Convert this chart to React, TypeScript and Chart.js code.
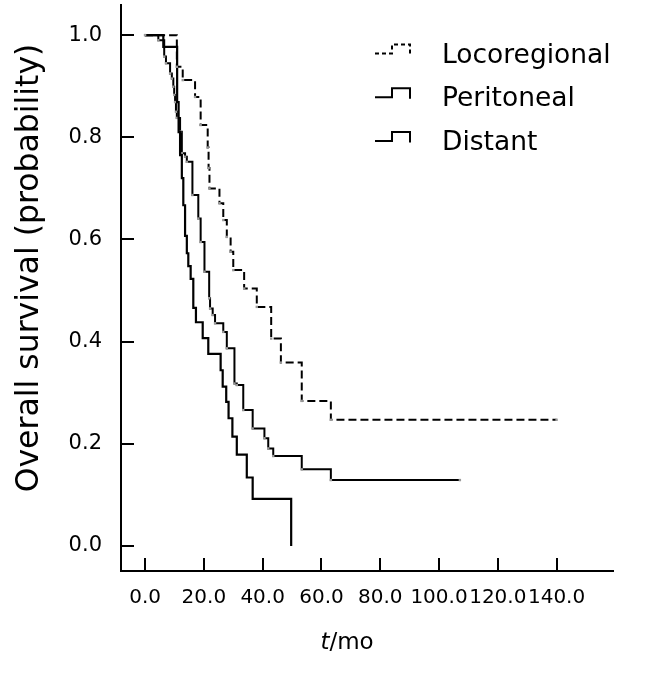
import React, { useEffect, useRef } from "react";
import { Chart, registerables } from "chart.js";

Chart.register(...registerables);

const FONT = "'DejaVu Sans', 'Verdana', sans-serif";

// ---- data ----
const seriesNames = ["Locoregional", "Peritoneal", "Distant"];

const locoT = [0, 10.8, 12.8, 17.0, 18.9, 21.3, 21.6, 21.9, 25.3, 26.6, 27.8, 29.1, 30.0, 33.7, 38.0, 42.9, 46.2, 53.3, 63.2, 140];
const locoS = [1, 0.938, 0.912, 0.879, 0.824, 0.78, 0.74, 0.70, 0.671, 0.638, 0.605, 0.576, 0.540, 0.504, 0.468, 0.406, 0.359, 0.284, 0.247, 0.247];

const periT = [0, 6.2, 10.9, 11.4, 11.9, 12.5, 13.0, 13.6, 14.2, 14.7, 15.5, 16.4, 17.3, 19.6, 21.5, 25.7, 26.4, 27.6, 28.4, 29.7, 31.2, 34.6, 36.6, 49.7];
const periS = [1, 0.977, 0.869, 0.810, 0.765, 0.720, 0.667, 0.607, 0.573, 0.548, 0.523, 0.466, 0.438, 0.407, 0.376, 0.344, 0.312, 0.282, 0.250, 0.214, 0.179, 0.134, 0.092, 0];

const distT = [0, 4.5, 6.5, 7.1, 8.5, 9.1, 9.6, 9.9, 10.2, 10.5, 10.8, 11.9, 12.5, 13.6, 14.2, 16.1, 18.1, 18.9, 20.2, 21.8, 22.1, 23.0, 23.8, 26.6, 27.8, 30.4, 31.2, 33.4, 36.6, 40.6, 41.9, 43.6, 53.3, 63.2, 107.1];
const distS = [1, 0.990, 0.958, 0.945, 0.925, 0.915, 0.899, 0.883, 0.869, 0.850, 0.838, 0.811, 0.769, 0.762, 0.752, 0.687, 0.641, 0.595, 0.537, 0.485, 0.465, 0.452, 0.436, 0.419, 0.387, 0.318, 0.315, 0.266, 0.230, 0.211, 0.191, 0.176, 0.150, 0.129, 0.129];

const xTickValues = [0, 20, 40, 60, 80, 100, 120, 140];
const yTickValues = [0, 0.2, 0.4, 0.6, 0.8, 1.0];

const yTitle = "Overall survival (probability)";
const xTitleItalic = "t";
const xTitleRest = "/mo";

const toPoints = (t: number[], s: number[]) => t.map((v, i) => ({ x: v, y: s[i] }));

// ---- plugins ----
const inwardTicks = {
  id: "inwardTicks",
  afterDraw(chart: any) {
    const { ctx, chartArea, scales } = chart;
    const x = scales.x;
    const y = scales.y;
    ctx.save();
    ctx.strokeStyle = "#000";
    ctx.lineWidth = 2;
    ctx.beginPath();
    xTickValues.forEach((v) => {
      const px = Math.round(x.getPixelForValue(v));
      ctx.moveTo(px, chartArea.bottom);
      ctx.lineTo(px, chartArea.bottom - 13);
    });
    yTickValues.forEach((v) => {
      const py = Math.round(y.getPixelForValue(v));
      ctx.moveTo(chartArea.left, py);
      ctx.lineTo(chartArea.left + 13, py);
    });
    ctx.stroke();
    ctx.restore();
  },
};

const stepLegend = {
  id: "stepLegend",
  afterDraw(chart: any) {
    const ctx = chart.ctx;
    chart.data.datasets.forEach((ds: any, i: number) => {
      const cy = 53 + i * 43.7;
      ctx.save();
      ctx.strokeStyle = ds.borderColor;
      ctx.lineWidth = 2;
      ctx.setLineDash(ds.borderDash && ds.borderDash.length ? [4, 3] : []);
      ctx.beginPath();
      ctx.moveTo(375, cy + 0.5);
      ctx.lineTo(392, cy + 0.5);
      ctx.lineTo(392, cy - 8.5);
      ctx.lineTo(410, cy - 8.5);
      ctx.lineTo(410, cy + 2);
      ctx.stroke();
      ctx.setLineDash([]);
      ctx.fillStyle = "#000";
      ctx.font = `26.5px ${FONT}`;
      ctx.textAlign = "left";
      ctx.textBaseline = "alphabetic";
      ctx.fillText(ds.label, 442, cy + 9.5);
      ctx.restore();
    });
  },
};

const axisTitles = {
  id: "axisTitles",
  afterDraw(chart: any) {
    const ctx = chart.ctx;
    ctx.save();
    ctx.fillStyle = "#000";
    ctx.translate(30, 268);
    ctx.rotate(-Math.PI / 2);
    ctx.font = `31.5px ${FONT}`;
    ctx.textAlign = "center";
    ctx.textBaseline = "middle";
    ctx.fillText(yTitle, 0, 0);
    ctx.restore();

    ctx.save();
    ctx.fillStyle = "#000";
    ctx.textBaseline = "middle";
    ctx.textAlign = "left";
    ctx.font = `italic 23px ${FONT}`;
    const w1 = ctx.measureText(xTitleItalic).width;
    ctx.font = `23px ${FONT}`;
    const w2 = ctx.measureText(xTitleRest).width;
    const start = 347 - (w1 + w2) / 2;
    ctx.font = `italic 23px ${FONT}`;
    ctx.fillText(xTitleItalic, start, 643);
    ctx.font = `23px ${FONT}`;
    ctx.fillText(xTitleRest, start + w1, 643);
    ctx.restore();
  },
};

export default function App() {
  const canvasRef = useRef<HTMLCanvasElement | null>(null);

  useEffect(() => {
    const canvas = canvasRef.current;
    if (!canvas) return;
    const censor = "#9a9a9a";
    const chart = new Chart(canvas, {
      type: "line",
      data: {
        datasets: [
          {
            label: seriesNames[0],
            data: toPoints(locoT, locoS),
            stepped: true,
            borderColor: "#000",
            borderWidth: 2,
            borderDash: [8, 4],
            pointRadius: 1.7,
            pointStyle: "rect",
            pointBackgroundColor: censor,
            pointBorderWidth: 0,
            fill: false,
          },
          {
            label: seriesNames[1],
            data: toPoints(periT, periS),
            stepped: true,
            borderColor: "#000",
            borderWidth: 2.2,
            pointRadius: 0,
            fill: false,
          },
          {
            label: seriesNames[2],
            data: toPoints(distT, distS),
            stepped: true,
            borderColor: "#000",
            borderWidth: 2,
            pointRadius: 1.7,
            pointStyle: "rect",
            pointBackgroundColor: censor,
            pointBorderWidth: 0,
            fill: false,
          },
        ],
      },
      options: {
        responsive: false,
        animation: false,
        layout: { padding: { left: 0, top: 5, right: 37, bottom: 0 } },
        plugins: {
          legend: { display: false },
          tooltip: { enabled: false },
          title: { display: false },
        },
        scales: {
          x: {
            type: "linear",
            min: -8.2,
            max: 159.2,
            afterFit: (s: any) => {
              s.height = 105;
              s.paddingLeft = 0;
              s.paddingRight = 0;
              s.paddingTop = 0;
              s.paddingBottom = 0;
            },
            afterBuildTicks: (s: any) => {
              s.ticks = xTickValues.map((v) => ({ value: v }));
            },
            ticks: {
              callback: (v: any) => Number(v).toFixed(1),
              font: { family: FONT, size: 20 },
              color: "#000",
              padding: 15,
              maxRotation: 0,
              autoSkip: false,
            },
            grid: { display: false, drawTicks: false },
            border: { display: true, color: "#000", width: 2 },
          },
          y: {
            type: "linear",
            min: -0.049,
            max: 1.059,
            afterFit: (s: any) => {
              s.width = 121;
              s.paddingLeft = 0;
              s.paddingRight = 0;
              s.paddingTop = 0;
              s.paddingBottom = 0;
            },
            afterBuildTicks: (s: any) => {
              s.ticks = yTickValues.map((v) => ({ value: v }));
            },
            ticks: {
              callback: (v: any) => Number(v).toFixed(1),
              font: { family: FONT, size: 21 },
              color: "#000",
              padding: 19,
              autoSkip: false,
            },
            grid: { display: false, drawTicks: false },
            border: { display: true, color: "#000", width: 2 },
          },
        },
      },
      plugins: [inwardTicks, stepLegend, axisTitles],
    } as any);
    return () => chart.destroy();
  }, []);

  return (
    <div style={{ position: "fixed", left: 0, top: 0, width: 650, height: 676, background: "#fff" }}>
      <canvas ref={canvasRef} width={650} height={676} style={{ width: 650, height: 676, display: "block" }} />
    </div>
  );
}
